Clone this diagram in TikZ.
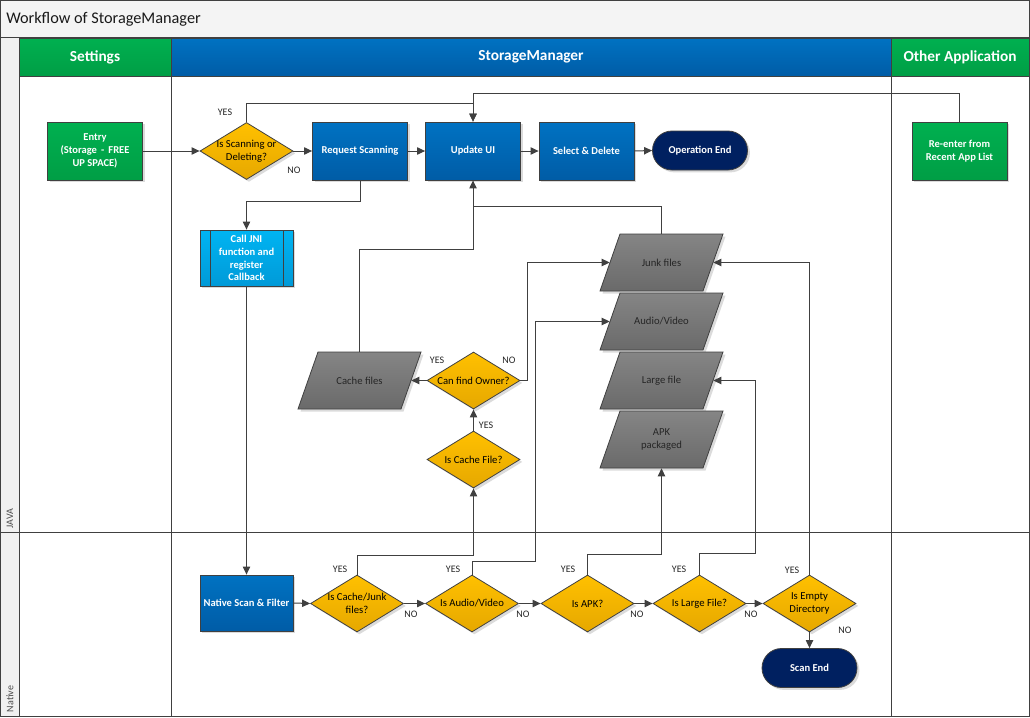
\documentclass[tikz,border=0pt]{standalone}
\usepackage{fontspec}
\setmainfont{Carlito}
\usetikzlibrary{shapes.geometric,arrows.meta,shadows,calc}
\definecolor{lineC}{HTML}{404040}
\definecolor{greenT}{HTML}{00B050}
\definecolor{greenB}{HTML}{009E45}
\definecolor{blueT}{HTML}{0072C2}
\definecolor{blueB}{HTML}{005CA6}
\definecolor{ltblueT}{HTML}{00B4F2}
\definecolor{ltblueB}{HTML}{009AD8}
\definecolor{yelT}{HTML}{FFC000}
\definecolor{yelB}{HTML}{E6A800}
\definecolor{paraT}{HTML}{858585}
\definecolor{paraB}{HTML}{6A6A6A}
\definecolor{navy}{HTML}{002060}
\definecolor{titlebg}{HTML}{F4F4F4}
\definecolor{stripbg}{HTML}{F0F0F0}
\newcommand{\paranode}[4]{%
  \fill[black,opacity=0.14] ({#2-41.5+2.5},{#3-28.5+2.5}) -- ({#2+61.5+2.5},{#3-28.5+2.5}) -- ({#2+41.5+2.5},{#3+28.5+2.5}) -- ({#2-61.5+2.5},{#3+28.5+2.5}) -- cycle;
  \shadedraw[top color=paraT,bottom color=paraB,draw=lineC,line width=0.6pt] ({#2-41.5},{#3-28.5}) -- ({#2+61.5},{#3-28.5}) -- ({#2+41.5},{#3+28.5}) -- ({#2-61.5},{#3+28.5}) -- cycle;
  \node[paratxt] (#1) at (#2,#3) {#4};
}
\begin{document}
\begin{tikzpicture}[x=0.75pt,y=-0.75pt,
  frame/.style={draw=lineC,line width=0.75pt},
  softshadow/.style={drop shadow={shadow xshift=1.8pt,shadow yshift=-1.8pt,fill=black,opacity=0.14}},
  hdr/.style={draw=lineC,line width=0.6pt,text=white,font=\bfseries\fontsize{11.5}{13}\selectfont,minimum height=28.5pt,inner sep=0pt},
  hdrgreen/.style={hdr,top color=greenT,bottom color=greenB},
  hdrblue/.style={hdr,top color=blueT,bottom color=blueB},
  box/.style={draw=lineC,line width=0.6pt,text=white,align=center,font=\bfseries\fontsize{7.9}{9.6}\selectfont,minimum width=71.25pt,minimum height=43.5pt,inner sep=1pt,softshadow},
  gbox/.style={box,top color=greenT,bottom color=greenB},
  bbox/.style={box,top color=blueT,bottom color=blueB},
  jbox/.style={box,top color=ltblueT,bottom color=ltblueB,minimum width=69.75pt,minimum height=42pt,
    path picture={\draw[lineC,line width=0.6pt] ([xshift=7.5pt]path picture bounding box.north west) -- ([xshift=7.5pt]path picture bounding box.south west);
      \draw[lineC,line width=0.6pt] ([xshift=-7.5pt]path picture bounding box.north east) -- ([xshift=-7.5pt]path picture bounding box.south east);}},
  term/.style={box,fill=navy,rounded corners=14.6pt,minimum height=29.25pt},
  dia/.style={diamond,draw=lineC,line width=0.6pt,top color=yelT,bottom color=yelB,minimum width=69.75pt,minimum height=42.75pt,inner sep=0pt,softshadow},
  dtxt/.style={align=center,font=\fontsize{8}{9.6}\selectfont,text=black,inner sep=0pt},
  paratxt/.style={align=center,font=\fontsize{8}{9.6}\selectfont,text=black!85,minimum width=77.25pt,minimum height=42.75pt,inner sep=0pt},
  lbl/.style={font=\fontsize{7.5}{8.5}\selectfont,text=black!85,inner sep=0pt},
  lane/.style={font=\fontsize{7.5}{8}\selectfont,text=black!70,rotate=90,inner sep=0pt},
  arr/.style={draw=lineC,line width=0.75pt,-{Triangle[length=6pt,width=5.5pt]}},
  ln/.style={draw=lineC,line width=0.75pt}
]
\useasboundingbox (0,0) rectangle (1030,717);
% backgrounds
\fill[white] (0,0) rectangle (1030,717);
\fill[titlebg] (0.5,0.5) rectangle (1029,38);
\fill[stripbg] (0.5,38) rectangle (19,716);
% headers
\node[hdrgreen,minimum width=114pt] (hset) at (95,57) {Settings};
\node[hdrblue,minimum width=540pt] (hsm) at (531,57) {StorageManager};
\node[hdrgreen,minimum width=103.5pt] (hoa) at (960,57) {Other Application};
% frame lines
\draw[frame] (0.5,0.5) rectangle (1029,716);
\draw[frame] (0.5,38) -- (1029,38);
\draw[frame] (19,38) -- (19,716);
\draw[frame] (19,76) -- (1029,76);
\draw[frame] (0.5,532) -- (1029,532);
\draw[frame] (171,76) -- (171,716);
\draw[frame] (891,76) -- (891,716);
% title and lane labels
\node[anchor=west,font=\fontsize{12.2}{14}\selectfont,text=black!90,inner sep=0pt] (title) at (6,19) {Workflow of StorageManager};
\node[lane] (ljava) at (10,518.5) {JAVA};
\node[lane] (lnative) at (10,699) {Native};
% nodes
\node[gbox] (entry) at (95,151) {Entry\\(Storage \,-\, FREE\\UP SPACE)};
\node[dia,label={[dtxt]center:Is Scanning or\\Deleting?}] (scan) at (246.5,151) {};
\node[bbox] (req) at (360,151) {Request Scanning};
\node[bbox] (ui) at (473,151) {Update UI};
\node[bbox] (sel) at (586.5,151) {Select \& Delete};
\node[term] (opend) at (700,150.5) {Operation End};
\node[gbox] (reenter) at (959.5,151) {Re-enter from\\Recent App List};
\node[jbox] (jni) at (246.5,258) {Call JNI\\function and\\register\\Callback};
\paranode{junk}{661.5}{262.5}{Junk files}
\paranode{av}{661.5}{321.5}{Audio/Video}
\paranode{large}{661.5}{380.5}{Large file}
\paranode{apk}{661.5}{439.5}{APK\\packaged}
\paranode{cache}{359.5}{380.5}{Cache files}
\node[dia,label={[dtxt]center:Can find Owner?}] (owner) at (473.5,380.5) {};
\node[dia,label={[dtxt]center:Is Cache File?}] (cfile) at (473.5,459.5) {};
\node[bbox,minimum width=69.75pt,minimum height=42pt] (native) at (246.5,603) {Native Scan \& Filter};
\node[dia,label={[dtxt]center:Is Cache/Junk\\files?}] (qjunk) at (357,603.5) {};
\node[dia,label={[dtxt]center:Is Audio/Video}] (qav) at (472,603.5) {};
\node[dia,label={[dtxt]center:Is APK?}] (qapk) at (587.5,603.5) {};
\node[dia,label={[dtxt]center:Is Large File?}] (qlarge) at (699.5,603.5) {};
\node[dia,label={[dtxt]center:Is Empty\\Directory}] (qempty) at (809.5,603.5) {};
\node[term] (scanend) at (809.5,668) {Scan End};
% connectors
\draw[arr] (entry.east) -- (scan.west);
\draw[arr] (scan.east) -- (req.west);
\draw[arr] (scan.north) -- ++(0,-19) -| (ui.north);
\draw[arr] (reenter.north) -- ++(0,-28) -| (ui.north);
\draw[arr] (req.east) -- (ui.west);
\draw[arr] (ui.east) -- (sel.west);
\draw[arr] (sel.east) -- (opend.west);
\draw[arr] (req.south) -- ++(0,21) -| (jni.north);
\draw[arr] (jni.south) -- (native.north);
\draw[arr] (junk.north) -- ++(0,-27) -| (ui.south);
\draw[ln] (cache.north) -- ++(0,-102) -| ($(ui.south)+(0,27)$);
\draw[arr] (owner.west) -- (cache.east);
\draw[arr] (owner.east) -- ++(7.5,0) |- (junk.west);
\draw[arr] (cfile.north) -- (owner.south);
\draw[arr] (qjunk.north) -- ++(0,-19) -| (cfile.south);
\draw[arr] (qav.north) -- ++(0,-13) -- ++(63,0) |- (av.west);
\draw[arr] (qapk.north) -- ++(0,-20) -| (apk.south);
\draw[arr] (qlarge.north) -- ++(0,-21) -- ++(56,0) |- (large.east);
\draw[arr] (qempty.north) |- (junk.east);
\draw[arr] (native.east) -- (qjunk.west);
\draw[arr] (qjunk.east) -- (qav.west);
\draw[arr] (qav.east) -- (qapk.west);
\draw[arr] (qapk.east) -- (qlarge.west);
\draw[arr] (qlarge.east) -- (qempty.west);
\draw[arr] (qempty.south) -- (scanend.north);
% labels
\node[lbl] (y1) at (225,112) {YES};
\node[lbl] (n1) at (294,170) {NO};
\node[lbl] (y2) at (437,360) {YES};
\node[lbl] (n2) at (509,360) {NO};
\node[lbl] (y3) at (486,425) {YES};
\node[lbl] (y4) at (340,569) {YES};
\node[lbl] (y5) at (453,569) {YES};
\node[lbl] (y6) at (568,569) {YES};
\node[lbl] (y7) at (679,569) {YES};
\node[lbl] (y8) at (792,570) {YES};
\node[lbl] (n4) at (411,614) {NO};
\node[lbl] (n5) at (523,614) {NO};
\node[lbl] (n6) at (637,614) {NO};
\node[lbl] (n7) at (751,614) {NO};
\node[lbl] (n8) at (845,630) {NO};
\end{tikzpicture}
\end{document}
